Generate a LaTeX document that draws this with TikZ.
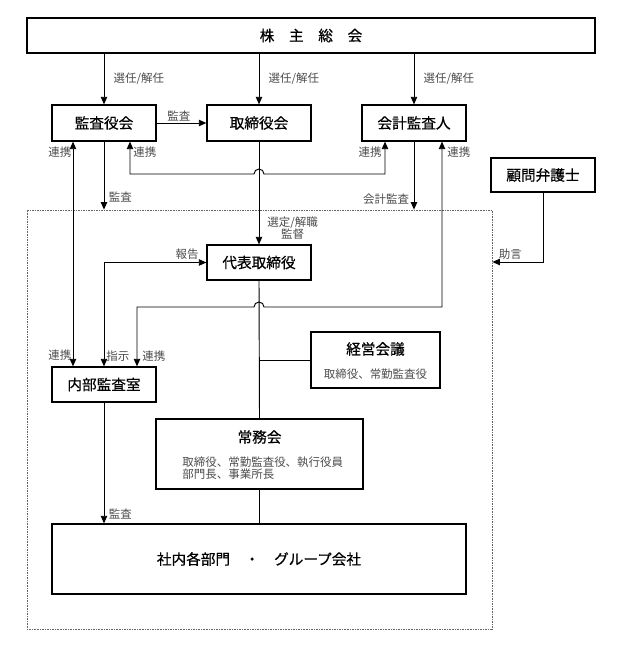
\documentclass[tikz,border=0pt]{standalone}
\usepackage{fontspec}
\setmainfont{Noto Sans CJK JP}
\newfontfamily\boxfont[FakeBold=0.6]{Noto Sans CJK JP}
\usetikzlibrary{arrows.meta}

\tikzset{
  sz/.style 2 args={minimum width=#1*0.03cm, minimum height=#2*0.03cm},
  box/.style={draw, line width=1pt, inner sep=0pt, font=\fontsize{12.5}{14}\boxfont},
  lbl/.style={text=black!70, inner sep=1pt, font=\fontsize{9.8}{10.4}\selectfont},
  line/.style={line width=0.8pt},
  link/.style={line width=0.8pt, -{Triangle[length=6.5pt,width=5.5pt]}},
  link2/.style={line width=0.8pt, {Triangle[length=6.5pt,width=5.5pt]}-{Triangle[length=6.5pt,width=5.5pt]}},
}

\begin{document}
\begin{tikzpicture}[x=0.03cm,y=-0.03cm]
    \useasboundingbox (0,0) rectangle (621,647);

    % boxes
    \node[box, sz={568}{35}] (soukai) at (311,35.5) {株\hspace{1em}主\hspace{1em}総\hspace{1em}会};
    \node[box, sz={104}{36}] (kansa) at (104,123) {監査役会};
    \node[box, sz={104}{36}] (torishimari) at (259,123) {取締役会};
    \node[box, sz={104}{36}] (kaikei) at (414,123) {会計監査人};
    \node[box, sz={104}{34}] (komon) at (543,175) {顧問弁護士};
    \node[draw, black!60, dash pattern=on 0.8pt off 0.6pt, line width=0.6pt, sz={465}{419}] (waku) at (259.5,419.5) {};
    \node[box, sz={104}{35}] (daihyo) at (259,262.5) {代表取締役};
    \node[box, sz={129}{56}] (keiei) at (375.5,360) {};
    \node[box, sz={104}{35}] (naibu) at (104,384.5) {内部監査室};
    \node[box, sz={207}{70}] (jomu) at (259.5,454) {};
    \node[box, sz={414}{70}] (shanai) at (259,559) {社内各部門　・　グループ会社};

    % texts inside the committee boxes
    \node[font=\fontsize{12.5}{14}\boxfont] (keieiT) at (375.5,349) {経営会議};
    \node[lbl] (keieiM) at (375.5,374) {取締役、常勤監査役};
    \node[font=\fontsize{12.5}{14}\boxfont] (jomuT) at (259.5,437) {常務会};
    \node[lbl, anchor=west, align=left] (jomuM) at (181,468) {取締役、常勤監査役、執行役員\\部門長、事業所長};

    % columns and rows of the connectors
    \coordinate (cL) at (73,0);
    \coordinate (cB) at (130,0);
    \coordinate (cC) at (137,0);
    \coordinate (cD) at (385,0);
    \coordinate (cE) at (442,0);
    \coordinate (hop1) at (259,174);
    \coordinate (hop2) at (259,307);
    \coordinate (row3) at (0,262);

    % shareholders elect the boards
    \foreach \n in {kansa,torishimari,kaikei} {
      \draw[link] (soukai.south -| \n.north) -- (\n.north)
        node[lbl, midway, anchor=west, xshift=0.24cm] {選任/解任};
    }

    % audit board -> board of directors
    \draw[link] (kansa.east) -- (torishimari.west) node[lbl, midway, above, xshift=-0.08cm] {監査};

    % audit board <-> internal audit
    \draw[link2] (kansa.south -| cL) -- (naibu.north -| cL)
      node[lbl, pos=0.045, left] {連携} node[lbl, pos=0.95, left] {連携};

    % audit board audits the company
    \draw[link] (kansa.south) -- (kansa.south |- waku.north) node[lbl, pos=0.82, right, xshift=0.1cm] {監査};

    % audit board <-> accounting auditor
    \draw[link2] (kansa.south -| cB) |- ([xshift=-0.15cm]hop1) arc[start angle=180, end angle=0, radius=0.15cm]
      -- (cD |- hop1) -- (kaikei.south -| cD);
    \node[lbl, anchor=west] (lRen1) at (132,152) {連携};
    \node[lbl, anchor=east] (lRen2) at (383,152) {連携};

    % accounting audit
    \draw[link] (kaikei.south) -- (kaikei.south |- waku.north) node[lbl, pos=0.84, left, xshift=-0.1cm] {会計監査};

    % accounting auditor <-> internal audit
    \draw[link2] (kaikei.south -| cE) |- ([xshift=0.15cm]hop2) arc[start angle=0, end angle=180, radius=0.15cm]
      -- (cC |- hop2) -- (naibu.north -| cC);
    \node[lbl, anchor=west] (lRen3) at (446,152) {連携};
    \node[lbl, anchor=west] (lRen4) at (141,356) {連携};

    % board -> representative director
    \draw[link] (torishimari.south) -- (daihyo.north);
    \node[lbl, anchor=west, align=center] (lSentei) at (266,228) {選定/解職\\監督};

    % representative director <-> internal audit
    \draw[link2] (naibu.north) |- (daihyo.west);
    \node[lbl, anchor=east] (lHoukoku) at (200,254) {報告};
    \node[lbl, anchor=west] (lShiji) at (105,356) {指示};

    % management line
    \draw[line] (daihyo.south) -- (jomu.north);
    \draw[line] (keiei.west) -- (keiei.west -| daihyo.south);
    \draw[line] (jomu.south) -- (jomu.south |- shanai.north);

    % internal audit audits the company
    \draw[link] (naibu.south) -- (naibu.south |- shanai.north) node[lbl, pos=0.92, right, xshift=0.1cm] {監査};

    % legal counsel advises
    \draw[link] (komon.south) |- (waku.east |- row3) node[lbl, pos=1, anchor=south west, xshift=0.15cm, yshift=0.03cm] {助言};
\end{tikzpicture}
\end{document}
